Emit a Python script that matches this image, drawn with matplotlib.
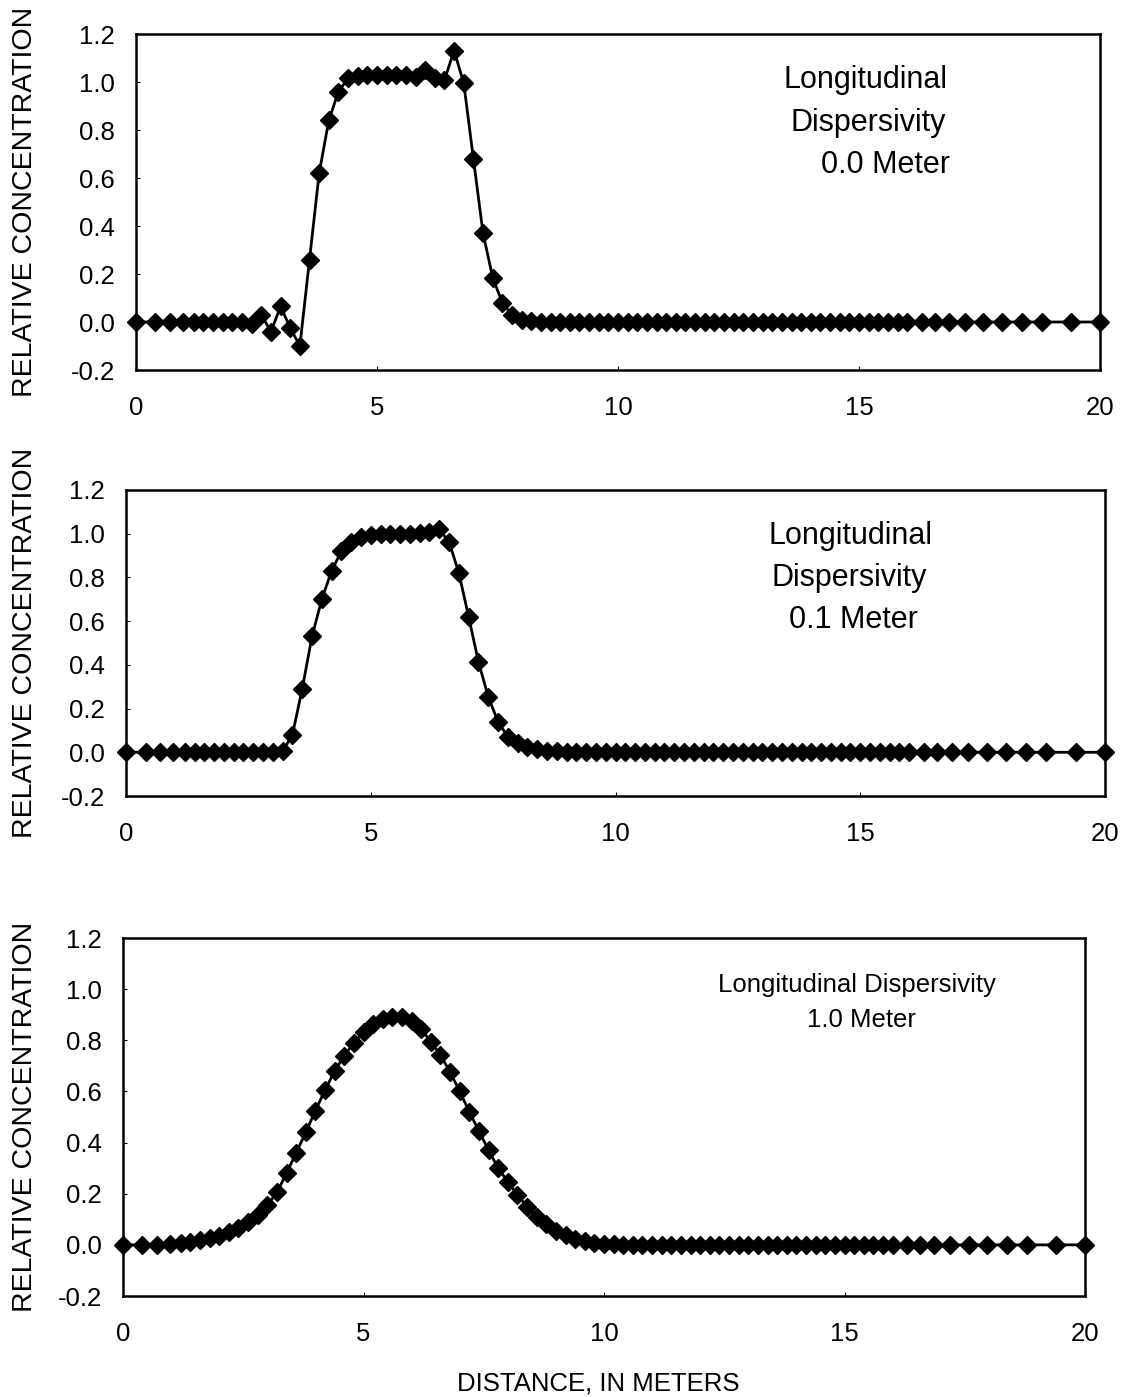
import matplotlib.pyplot as plt

plt.rcParams['font.family'] = ['Liberation Sans', 'DejaVu Sans']
plt.rcParams['axes.unicode_minus'] = False

# distance along the column, meters (model node positions)
distance = [
    0.0, 0.4, 0.7, 0.97, 1.2, 1.4, 1.6, 1.8, 2.0, 2.2,
    2.4, 2.6, 2.8, 3.0, 3.2, 3.4, 3.6, 3.8, 4.0, 4.2,
    4.4, 4.6, 4.8, 5.0, 5.2, 5.4, 5.6, 5.8, 6.0, 6.2,
    6.4, 6.6, 6.8, 7.0, 7.2, 7.4, 7.6, 7.8, 8.0, 8.2,
    8.4, 8.6, 8.8, 9.0, 9.2, 9.4, 9.6, 9.8, 10.0, 10.2,
    10.4, 10.6, 10.8, 11.0, 11.2, 11.4, 11.6, 11.8, 12.0, 12.2,
    12.4, 12.6, 12.8, 13.0, 13.2, 13.4, 13.6, 13.8, 14.0, 14.2,
    14.4, 14.6, 14.8, 15.0, 15.2, 15.4, 15.6, 15.8, 16.0, 16.3,
    16.57, 16.87, 17.2, 17.58, 17.97, 18.38, 18.8, 19.4, 20.0,
]

# relative concentration, dispersivity 0.0 m
conc_00 = [
    0.0, 0.0, 0.0, 0.0, 0.0, 0.0, 0.0, 0.0, 0.0, 0.0,
    -0.01, 0.03, -0.04, 0.065, -0.025, -0.10, 0.26, 0.62, 0.84, 0.96,
    1.015, 1.025, 1.03, 1.03, 1.03, 1.03, 1.03, 1.02, 1.05, 1.015,
    1.01, 1.13, 0.995, 0.68, 0.37, 0.185, 0.08, 0.03, 0.01, 0.005,
    0.0, 0.0, 0.0, 0.0, 0.0, 0.0, 0.0, 0.0, 0.0, 0.0,
    0.0, 0.0, 0.0, 0.0, 0.0, 0.0, 0.0, 0.0, 0.0, 0.0,
    0.0, 0.0, 0.0, 0.0, 0.0, 0.0, 0.0, 0.0, 0.0, 0.0,
    0.0, 0.0, 0.0, 0.0, 0.0, 0.0, 0.0, 0.0, 0.0, 0.0,
    0.0, 0.0, 0.0, 0.0, 0.0, 0.0, 0.0, 0.0, 0.0,
]

# dispersivity 0.1 m
conc_01 = [
    0.0, 0.0, 0.0, 0.0, 0.0, 0.0, 0.0, 0.0, 0.0, 0.0,
    0.0, 0.0, 0.0, 0.0, 0.005, 0.08, 0.29, 0.53, 0.70, 0.83,
    0.92, 0.963, 0.986, 0.995, 1.0, 1.0, 1.0, 1.0, 1.005, 1.01,
    1.02, 0.963, 0.82, 0.62, 0.414, 0.254, 0.14, 0.071, 0.041, 0.026,
    0.015, 0.008, 0.004, 0.002, 0.001, 0.0, 0.0, 0.0, 0.0, 0.0,
    0.0, 0.0, 0.0, 0.0, 0.0, 0.0, 0.0, 0.0, 0.0, 0.0,
    0.0, 0.0, 0.0, 0.0, 0.0, 0.0, 0.0, 0.0, 0.0, 0.0,
    0.0, 0.0, 0.0, 0.0, 0.0, 0.0, 0.0, 0.0, 0.0, 0.0,
    0.0, 0.0, 0.0, 0.0, 0.0, 0.0, 0.0, 0.0, 0.0,
]

# dispersivity 1.0 m
conc_10 = [
    0.0, 0.0, 0.001, 0.004, 0.007, 0.013, 0.019, 0.025, 0.034, 0.049,
    0.066, 0.088, 0.117, 0.155, 0.205, 0.28, 0.36, 0.44, 0.525, 0.605,
    0.68, 0.74, 0.79, 0.832, 0.865, 0.882, 0.892, 0.893, 0.875, 0.843,
    0.795, 0.742, 0.676, 0.60, 0.52, 0.445, 0.37, 0.30, 0.247, 0.195,
    0.15, 0.11, 0.08, 0.054, 0.037, 0.023, 0.014, 0.008, 0.004, 0.002,
    0.001, 0.0, 0.0, 0.0, 0.0, 0.0, 0.0, 0.0, 0.0, 0.0,
    0.0, 0.0, 0.0, 0.0, 0.0, 0.0, 0.0, 0.0, 0.0, 0.0,
    0.0, 0.0, 0.0, 0.0, 0.0, 0.0, 0.0, 0.0, 0.0, 0.0,
    0.0, 0.0, 0.0, 0.0, 0.0, 0.0, 0.0, 0.0, 0.0,
]

y_ticks = [-0.2, 0.0, 0.2, 0.4, 0.6, 0.8, 1.0, 1.2]
x_ticks = [0, 5, 10, 15, 20]

W, H = 1122, 1397
fig = plt.figure(figsize=(W / 100, H / 100), dpi=100)

# pixel boxes of each panel: left, top, right, bottom
boxes = [(136, 34, 1100, 370), (126, 490, 1105, 796), (123, 938, 1085, 1296)]
series = [conc_00, conc_01, conc_10]

# annotation lines: (text, x, y in axes fraction, size)
notes = [
    [("Longitudinal", 0.757, 0.863, 22), ("Dispersivity", 0.760, 0.735, 22),
     ("0.0 Meter", 0.777, 0.610, 22)],
    [("Longitudinal", 0.740, 0.850, 22), ("Dispersivity", 0.739, 0.712, 22),
     ("0.1 Meter", 0.743, 0.575, 22)],
    [("Longitudinal Dispersivity", 0.763, 0.869, 18.5), ("1.0 Meter", 0.768, 0.771, 18.5)],
]

for box, conc, note in zip(boxes, series, notes):
    l, t, r, b = box
    ax = fig.add_axes([l / W, 1 - b / H, (r - l) / W, (b - t) / H])
    ax.plot(distance, conc, color='black', lw=2, marker='D', ms=9,
            mfc='black', mec='black', clip_on=False, zorder=3)
    ax.set_xlim(0, 20)
    ax.set_ylim(-0.2, 1.2)
    ax.set_xticks(x_ticks)
    ax.set_yticks(y_ticks)
    ax.set_yticklabels(['%.1f' % v for v in y_ticks])
    ax.tick_params(axis='both', direction='in', length=3, width=0.8, labelsize=18.5)
    ax.tick_params(axis='y', pad=15)
    ax.tick_params(axis='x', pad=19)
    for sp in ax.spines.values():
        sp.set_linewidth(1.8)
        sp.set_color('black')
    for txt, xa, ya, fs in note:
        ax.text(xa, ya, txt, transform=ax.transAxes, ha='center', va='center', fontsize=fs)
    fig.text(25 / W, 1 - (t + b) / 2 / H, 'RELATIVE CONCENTRATION', rotation=90,
             ha='center', va='center', fontsize=20.5)

fig.text(598 / W, 1 - 1383 / H, 'DISTANCE, IN METERS', ha='center', va='center', fontsize=18.5)

fig.savefig('out.png', dpi=100, facecolor='white')
